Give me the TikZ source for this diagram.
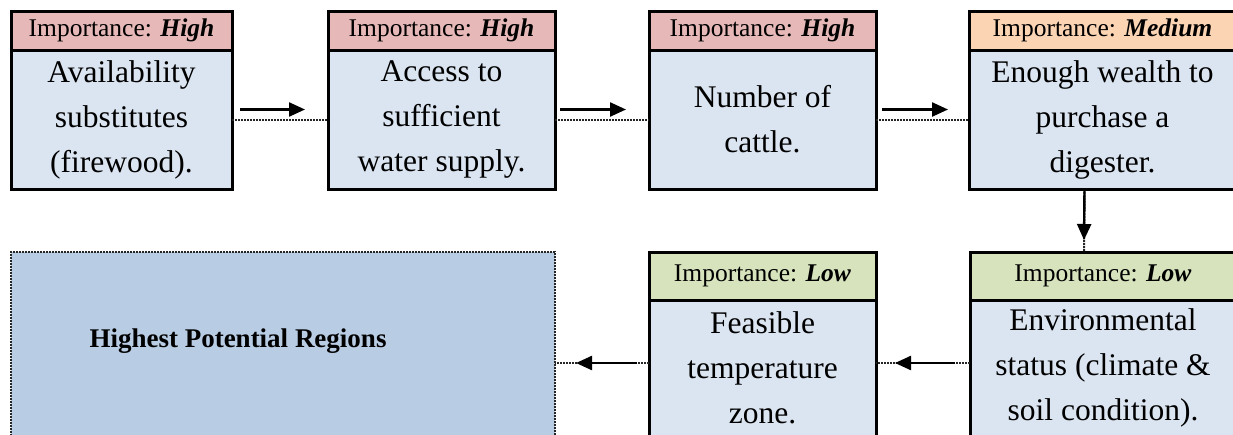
\documentclass[tikz,border=0pt]{standalone}
\usepackage{fontspec}
\setmainfont{Liberation Serif}
\usetikzlibrary{arrows.meta}
\definecolor{headred}{HTML}{E6B8B7}
\definecolor{headorange}{HTML}{FBD4B4}
\definecolor{headgreen}{HTML}{D6E3BC}
\definecolor{bodyblue}{HTML}{DBE5F1}
\definecolor{goalblue}{HTML}{B8CCE4}
\tikzset{
   head/.style={draw,line width=3pt,outer sep=0pt,anchor=north west,minimum height=39pt,font=\fontsize{25.5}{30}\selectfont},
   body/.style={draw,line width=3pt,outer sep=0pt,anchor=north west,minimum height=139pt,align=center,fill=bodyblue,font=\fontsize{31.5}{45}\selectfont},
   link/.style={densely dotted,line width=2pt,black!85},
   flow/.style={line width=2.4pt,-{Triangle[length=16pt,width=14pt]}}
}
\newcommand{\imp}[1]{Importance: \textbf{\textit{#1}}}
\begin{document}
\begin{tikzpicture}[x=1pt,y=-1pt]
   \useasboundingbox (0,0) rectangle (1233,434);
   \clip (0,0) rectangle (1233,434);
   \node [head,fill=headred,minimum width=221pt] (h1) at (11,11) {\imp{High}};
   \node [body,minimum width=221pt] (b1) at (11,50) {Availability\\substitutes\\(firewood).};
   \node [head,fill=headred,minimum width=227pt] (h2) at (328,11) {\imp{High}};
   \node [body,minimum width=227pt] (b2) at (328,50) {Access to\\sufficient\\water supply.};
   \node [head,fill=headred,minimum width=227pt] (h3) at (649,11) {\imp{High}};
   \node [body,minimum width=227pt] (b3) at (649,50) {Number of\\cattle.};
   \node [head,fill=headorange,minimum width=267pt] (h4) at (969,11) {\imp{Medium}};
   \node [body,minimum width=267pt] (b4) at (969,50) {Enough wealth to\\purchase a\\digester.};
   \node [draw=black!85,densely dotted,line width=2pt,fill=goalblue,anchor=north west,outer sep=0pt,minimum width=544pt,minimum height=200pt] (goal) at (11,252) {};
   \node [font=\fontsize{27}{32}\selectfont\bfseries] (goaltext) at (238,341) {Highest Potential Regions};
   \node [head,fill=headgreen,minimum width=227pt,minimum height=48pt] (h6) at (649,252) {\imp{Low}};
   \node [body,minimum width=227pt,minimum height=136pt] (b6) at (649,300) {Feasible\\temperature\\zone.};
   \node [head,fill=headgreen,minimum width=266pt,minimum height=48pt] (h7) at (970,252) {\imp{Low}};
   \node [body,minimum width=266pt,minimum height=136pt] (b7) at (970,300) {Environmental\\status (climate \&\\soil condition).};
   \draw [link] (b1.east) -- (b2.west);
   \draw [flow] ([xshift=8pt,yshift=10pt]b1.east) -- ([xshift=-23pt,yshift=10pt]b2.west);
   \draw [link] (b2.east) -- (b3.west);
   \draw [flow] ([xshift=5pt,yshift=10pt]b2.east) -- ([xshift=-23pt,yshift=10pt]b3.west);
   \draw [link] (b3.east) -- (b4.west);
   \draw [flow] ([xshift=6pt,yshift=10pt]b3.east) -- ([xshift=-21pt,yshift=10pt]b4.west);
   \draw [link] ([xshift=-18pt]b4.south) -- ([xshift=-19pt]h7.north);
   \draw [flow] ([xshift=-18pt]b4.south) -- ([xshift=-19pt,yshift=12pt]h7.north);
   \coordinate (e7) at ([yshift=5pt]b7.west);
   \coordinate (e6) at (e7 -| b6.east);
   \coordinate (w6) at ([yshift=5pt]b6.west);
   \coordinate (e5) at (w6 -| goal.east);
   \draw [link] (e7) -- (e6);
   \draw [flow] ([xshift=-15pt]e7) -- ([xshift=19pt]e6);
   \draw [link] (w6) -- (e5);
   \draw [flow] ([xshift=-12pt]w6) -- ([xshift=21pt]e5);
\end{tikzpicture}
\end{document}
